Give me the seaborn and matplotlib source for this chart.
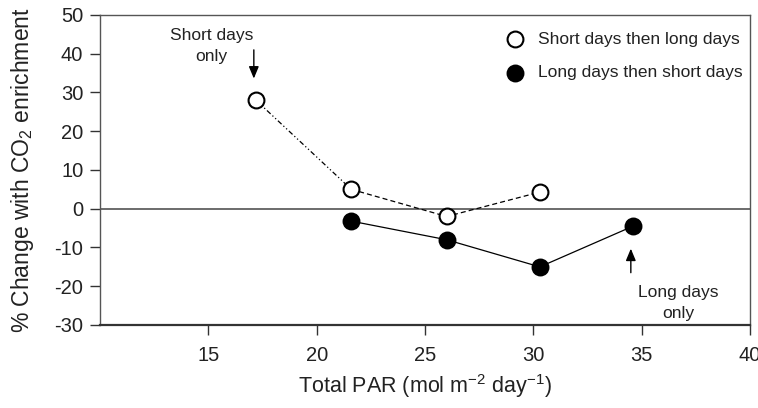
import matplotlib
matplotlib.use("Agg")
import matplotlib.pyplot as plt
import seaborn as sns
import pandas as pd

# Data
short_long_x = [17.2, 21.6, 26.0, 30.3]
short_long_y = [28.0, 5.0, -2.0, 4.3]
long_short_x = [21.6, 26.0, 30.3, 34.6]
long_short_y = [-3.2, -8.0, -15.0, -4.5]
series_labels = ["Short days then long days", "Long days then short days"]
x_ticks = [15, 20, 25, 30, 35, 40]
y_ticks = [-30, -20, -10, 0, 10, 20, 30, 40, 50]

sns.set_theme(style="ticks")
plt.rcParams["font.family"] = ["Liberation Sans", "DejaVu Sans"]
plt.rcParams["axes.unicode_minus"] = False
plt.rcParams["mathtext.fontset"] = "custom"
plt.rcParams["mathtext.rm"] = "Liberation Sans"
plt.rcParams["mathtext.it"] = "Liberation Sans:italic"

fig = plt.figure(figsize=(7.58, 4.08), dpi=100)
ax = fig.add_axes([100 / 758, 1 - 325 / 408, 650 / 758, 310 / 408])

ax.axhline(0, color="#444444", lw=1.1, zorder=1)

df_o = pd.DataFrame({"x": short_long_x, "y": short_long_y})
df_f = pd.DataFrame({"x": long_short_x, "y": long_short_y})

sns.lineplot(data=df_o.iloc[0:2], x="x", y="y", ax=ax, color="black", lw=0.9,
             linestyle=(0, (4, 2, 1, 2, 1, 2)), sort=False, zorder=2)
sns.lineplot(data=df_o.iloc[1:], x="x", y="y", ax=ax, color="black", lw=0.9,
             linestyle=(0, (4, 2.5)), sort=False, zorder=2)
sns.lineplot(data=df_f, x="x", y="y", ax=ax, color="black", lw=0.9,
             sort=False, zorder=2)

sns.scatterplot(data=df_o, x="x", y="y", ax=ax, s=130, marker="o",
                facecolor="white", edgecolor="black", linewidth=1.5,
                label=series_labels[0], zorder=3)
sns.scatterplot(data=df_f, x="x", y="y", ax=ax, s=130, marker="o",
                facecolor="black", edgecolor="black", linewidth=1.5,
                label=series_labels[1], zorder=3)

ax.set_xlim(10, 40)
ax.set_ylim(-30, 50)
ax.set_xticks(x_ticks)
ax.set_yticks(y_ticks)
ax.tick_params(axis="both", labelsize=14.5, length=7, width=1, color="#333333",
               labelcolor="#222222", direction="out")
ax.tick_params(axis="x", pad=8)
ax.tick_params(axis="y", pad=5)

for side in ["left", "top", "right"]:
    ax.spines[side].set_color("#555555")
    ax.spines[side].set_linewidth(1.0)
ax.spines["bottom"].set_color("#333333")
ax.spines["bottom"].set_linewidth(1.6)

ax.set_xlabel("Total PAR (mol m$^{-2}$ day$^{-1}$)", fontsize=15.5, labelpad=5,
              color="#222222")
ax.set_ylabel("% Change with CO$_2$ enrichment", fontsize=16.5, labelpad=13,
              color="#222222")

# Annotations
arrow_kw = dict(arrowstyle="-|>,head_length=0.6,head_width=0.25",
                color="black", lw=1, shrinkA=0, shrinkB=0)
ax.annotate("", xy=(17.1, 33.6), xytext=(17.1, 41.0), arrowprops=arrow_kw)
ax.text(15.15, 37.4, "Short days\nonly", ha="center", va="bottom",
        fontsize=12.5, linespacing=1.45, color="#222222")
ax.annotate("", xy=(34.5, -10.3), xytext=(34.5, -16.5), arrowprops=arrow_kw)
ax.text(36.7, -28.9, "Long days\nonly", ha="center", va="bottom",
        fontsize=12.5, linespacing=1.45, color="#222222")

leg = ax.legend(loc="upper right", frameon=False, fontsize=12.5,
                labelspacing=1.05, handletextpad=0.3, borderaxespad=0.3,
                bbox_to_anchor=(1.007, 0.985))
for t in leg.get_texts():
    t.set_color("#222222")

fig.savefig("out.png", dpi=100)
